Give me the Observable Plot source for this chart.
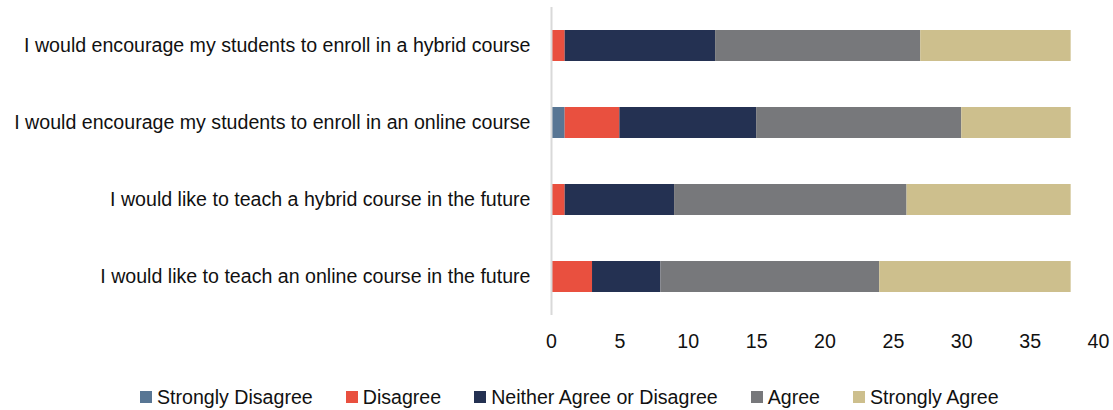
<!DOCTYPE html>
<html>
<head>
<meta charset="utf-8">
<script src="https://cdn.jsdelivr.net/npm/d3@7"></script>
<script src="https://cdn.jsdelivr.net/npm/@observablehq/plot@0.6"></script>
<style>
  html, body { margin: 0; padding: 0; background: #fff; }
  body { width: 1113px; height: 410px; overflow: hidden; font-family: "Liberation Sans", Arial, sans-serif; }
  #chart svg { display: block; }
  #legend { display: flex; align-items: center; margin-left: 140px; margin-top: 26px; font-size: 19.6px; color: #111; line-height: 22px; }
  #legend .item { display: flex; align-items: center; margin-right: 33px; }
  #legend .sw { width: 12px; height: 12px; margin-right: 5px; }
</style>
</head>
<body>
<div id="chart"></div>
<div id="legend"></div>
<script>
const categories = [
  "I would encourage my students to enroll in a hybrid course",
  "I would encourage my students to enroll in an online course",
  "I would like to teach a hybrid course in the future",
  "I would like to teach an online course in the future"
];
const series = ["Strongly Disagree", "Disagree", "Neither Agree or Disagree", "Agree", "Strongly Agree"];
const colors = ["#587694", "#E9503F", "#243152", "#77787B", "#CDBF8D"];
const stronglyDisagree = [0, 1, 0, 0];
const disagree = [1, 4, 1, 3];
const neither = [11, 10, 8, 5];
const agree = [15, 15, 17, 16];
const stronglyAgree = [11, 8, 12, 14];
const xTicks = [0, 5, 10, 15, 20, 25, 30, 35, 40];

const seriesValues = [stronglyDisagree, disagree, neither, agree, stronglyAgree];
const data = [];
series.forEach((s, i) => {
  categories.forEach((c, j) => {
    data.push({ category: c, series: s, value: seriesValues[i][j] });
  });
});

const chart = Plot.plot({
  width: 1113,
  height: 360,
  marginLeft: 551,
  marginRight: 15,
  marginTop: 7,
  marginBottom: 45,
  style: { fontFamily: "Liberation Sans, Arial, sans-serif", fontSize: "19.6px", color: "#111" },
  x: { domain: [0, 40], ticks: xTicks, tickSize: 0, tickPadding: 19, label: null },
  y: { domain: categories, paddingInner: 0.6, paddingOuter: 0.3, tickSize: 0, tickPadding: 21, label: null },
  color: { domain: series, range: colors },
  marks: [
    Plot.barX(data, Plot.stackX({ x: "value", y: "category", fill: "series", order: series })),
    Plot.ruleX([0], { stroke: "#d9d9d9", strokeWidth: 2 })
  ]
});
document.getElementById("chart").appendChild(chart);

const legend = document.getElementById("legend");
series.forEach((s, i) => {
  const item = document.createElement("div");
  item.className = "item";
  const sw = document.createElement("span");
  sw.className = "sw";
  sw.style.background = colors[i];
  const t = document.createElement("span");
  t.textContent = s;
  item.appendChild(sw);
  item.appendChild(t);
  legend.appendChild(item);
});
</script>
</body>
</html>
